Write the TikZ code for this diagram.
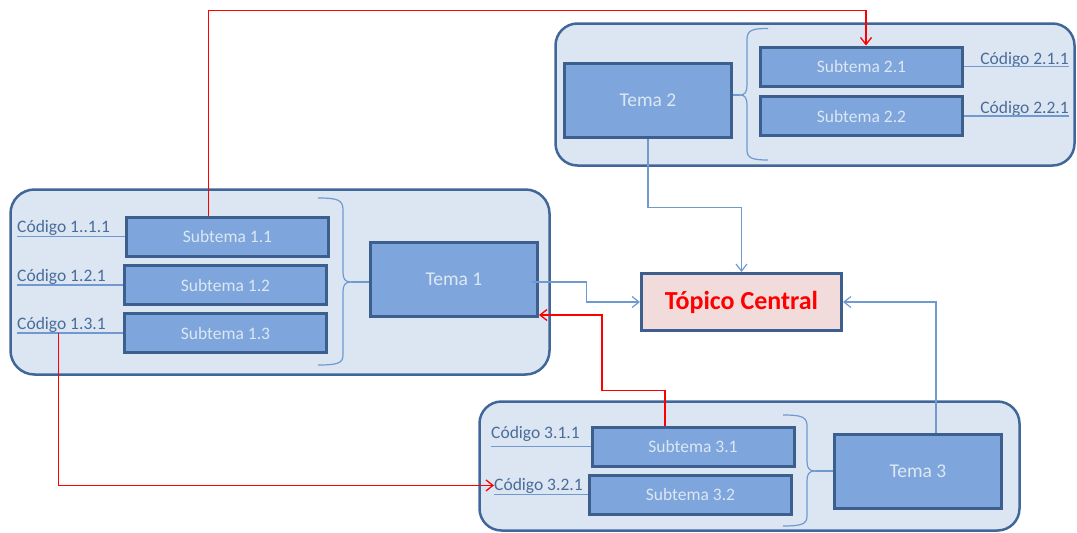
\documentclass[tikz,border=0pt]{standalone}
\usepackage{fontspec}
\setmainfont{Carlito}
\usetikzlibrary{arrows.meta}

\definecolor{grpfill}{HTML}{DCE6F2}
\definecolor{grpline}{HTML}{41679A}
\definecolor{boxfill}{HTML}{7EA6DC}
\definecolor{boxline}{HTML}{3C5F8E}
\definecolor{boxtext}{HTML}{DCE7F4}
\definecolor{codetext}{HTML}{4A6C9B}
\definecolor{linkblue}{HTML}{6F99CF}
\definecolor{centerfill}{HTML}{F2DCDB}

\begin{document}
\begin{tikzpicture}[x=1pt, y=-1pt,
    group/.style={rectangle, rounded corners=24pt, draw=grpline, line width=2.5pt, fill=grpfill, inner sep=0pt},
    subtema/.style={rectangle, draw=boxline, line width=3pt, fill=boxfill, minimum width=202pt, minimum height=39pt, inner sep=0pt, text=boxtext, font=\fontsize{17.5}{20}\selectfont},
    tema/.style={subtema, minimum width=167pt, minimum height=74pt, font=\fontsize{19.5}{22}\selectfont},
    central/.style={rectangle, draw=boxline, line width=3pt, fill=centerfill, minimum width=200pt, minimum height=57pt, inner sep=0pt, text=red, font=\fontsize{26}{30}\selectfont\bfseries},
    codigo/.style={inner sep=0pt, text=codetext, font=\fontsize{17.5}{20}\selectfont},
    codeline/.style={draw=linkblue, line width=1.2pt},
    bracket/.style={draw=linkblue, line width=1.2pt},
    link/.style={-{Straight Barb[length=7pt,width=11pt]}, draw=linkblue, line width=1.2pt},
    redlink/.style={-{Straight Barb[length=7pt,width=11pt]}, draw=red, line width=1.3pt}
]
\useasboundingbox (0,0) rectangle (1077,533);

% groups
\node[group, minimum width=539pt, minimum height=185pt] (grp1) at (280,282) {};
\node[group, minimum width=519pt, minimum height=142pt, rounded corners=22pt] (grp2) at (815,94.5) {};
\node[group, minimum width=540pt, minimum height=129pt, rounded corners=22pt] (grp3) at (749.5,466) {};

% tema 1
\node[subtema] (s11) at (227.5,236.5) {Subtema 1.1};
\node[subtema] (s12) at (225.5,285) {Subtema 1.2};
\node[subtema] (s13) at (225.5,333) {Subtema 1.3};
\node[tema] (t1) at (454,279.5) {Tema 1};
\node[codigo, anchor=base west] (c111) at (17,232) {Código 1..1.1};
\node[codigo, anchor=base west] (c121) at (17,281) {Código 1.2.1};
\node[codigo, anchor=base west] (c131) at (17,329) {Código 1.3.1};

% tema 2
\node[subtema] (s21) at (861.5,66.5) {Subtema 2.1};
\node[subtema] (s22) at (861.5,116) {Subtema 2.2};
\node[tema] (t2) at (648,100.5) {Tema 2};
\node[codigo, anchor=base east] (c211) at (1069,64.5) {Código 2.1.1};
\node[codigo, anchor=base east] (c221) at (1069,113.5) {Código 2.2.1};

% tema 3
\node[subtema] (s31) at (693,446.5) {Subtema 3.1};
\node[subtema] (s32) at (690.5,494.5) {Subtema 3.2};
\node[tema] (t3) at (918,471.5) {Tema 3};
\node[codigo, anchor=base west] (c311) at (491,438) {Código 3.1.1};
\node[codigo, anchor=base west] (c321) at (494,490) {Código 3.2.1};

% centro
\node[central] (tc) at (741.5,302) {Tópico Central};

% code lines
\draw[codeline] (s11.west) -- (c111.west |- s11.west);
\draw[codeline] (s12.west) -- (c121.west |- s12.west);
\draw[codeline] (s13.west) -- (c131.west |- s13.west);
\draw[codeline] (s21.east) -- (c211.east |- s21.east);
\draw[codeline] (s22.east) -- (c221.east |- s22.east);
\draw[codeline] (s31.west) -- (c311.west |- s31.west);
\draw[codeline] (s32.west) -- (c321.west |- s32.west);

% braces
\coordinate (b1tip) at (351,282);
\coordinate (b2tip) at (740,95);
\coordinate (b3tip) at (815,471);
\draw[bracket] (318,198) .. controls (338,198) and (343,200) .. (343,210) -- (343,272)
  .. controls (343,279) and (345,282) .. (b1tip)
  .. controls (345,282) and (343,285) .. (343,292) -- (343,355)
  .. controls (343,363) and (338,365) .. (318,365);
\draw[bracket] (b1tip) -- (b1tip -| t1.west);
\draw[bracket] (768,28.5) .. controls (752,28.5) and (747,30) .. (747,40) -- (747,85)
  .. controls (747,92) and (745,95) .. (b2tip)
  .. controls (745,95) and (747,98) .. (747,105) -- (747,150)
  .. controls (747,158) and (752,160) .. (768,160);
\draw[bracket] (b2tip) -- (b2tip -| t2.east);
\draw[bracket] (783,415) .. controls (802,415) and (807,417) .. (807,426) -- (807,461)
  .. controls (807,468) and (809,471) .. (b3tip)
  .. controls (809,471) and (807,474) .. (807,481) -- (807,516)
  .. controls (807,524) and (802,526) .. (783,526);
\draw[bracket] (b3tip) -- (b3tip -| t3.west);

% links to the centre
\draw[link] (t2.south) -- ++(0,68.5) -| (tc.north);
\draw[link] ([xshift=-7.5pt,yshift=-2.5pt]t1.east) -- ++(55,0) |- (tc.west);
\draw[link] ([xshift=18pt]t3.north) |- (tc.east);

% red links
\draw[redlink] ([xshift=-19pt]s11.north) -- ++(0,-205) -| ([xshift=4.5pt]s21.north);
\draw[redlink] ([xshift=-28pt]s31.north) -- ++(0,-35) -- ++(-63,0) |- ([yshift=-35.5pt]t1.east);
\draw[redlink] ([xshift=-64.5pt]s13.west) |- (c321.west);
\end{tikzpicture}
\end{document}
